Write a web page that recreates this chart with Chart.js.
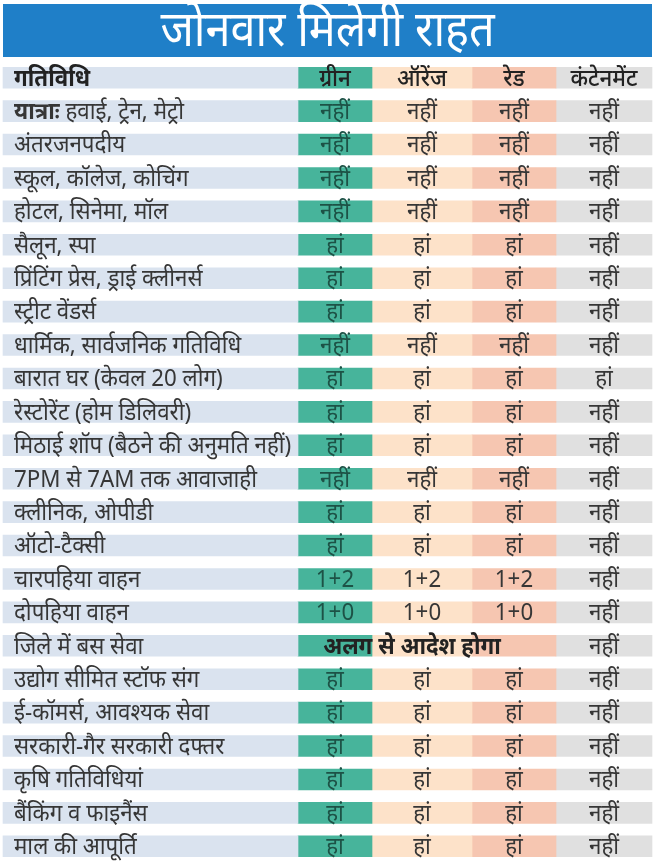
<!DOCTYPE html>
<html lang="hi">
<head>
<meta charset="utf-8">
<title>जोनवार मिलेगी राहत</title>
<script src="https://cdn.jsdelivr.net/npm/chart.js@4.4.1/dist/chart.umd.min.js"></script>
<style>
  html, body { margin: 0; padding: 0; background: #fff; }
</style>
</head>
<body>
<canvas id="zones" width="655" height="863"></canvas>
<script>
const title = 'जोनवार मिलेगी राहत'
const headerLabel = 'गतिविधि'
const zones = ['ग्रीन', 'ऑरेंज', 'रेड', 'कंटेनमेंट']

const activities = [
  'यात्राः हवाई, ट्रेन, मेट्रो',
  'अंतरजनपदीय',
  'स्कूल, कॉलेज, कोचिंग',
  'होटल, सिनेमा, मॉल',
  'सैलून, स्पा',
  'प्रिंटिंग प्रेस, ड्राई क्लीनर्स',
  'स्ट्रीट वेंडर्स',
  'धार्मिक, सार्वजनिक गतिविधि',
  'बारात घर (केवल 20 लोग)',
  'रेस्टोरेंट (होम डिलिवरी)',
  'मिठाई शॉप (बैठने की अनुमति नहीं)',
  '7PM से 7AM तक आवाजाही',
  'क्लीनिक, ओपीडी',
  'ऑटो-टैक्सी',
  'चारपहिया वाहन',
  'दोपहिया वाहन',
  'जिले में बस सेवा',
  'उद्योग सीमित स्टॉफ संग',
  'ई-कॉमर्स, आवश्यक सेवा',
  'सरकारी-गैर सरकारी दफ्तर',
  'कृषि गतिविधियां',
  'बैंकिंग व फाइनैंस',
  'माल की आपूर्ति'
]

const green = ['नहीं', 'नहीं', 'नहीं', 'नहीं', 'हां', 'हां', 'हां', 'नहीं', 'हां', 'हां', 'हां', 'नहीं',
  'हां', 'हां', '1+2', '1+0', null, 'हां', 'हां', 'हां', 'हां', 'हां', 'हां']
const orange = ['नहीं', 'नहीं', 'नहीं', 'नहीं', 'हां', 'हां', 'हां', 'नहीं', 'हां', 'हां', 'हां', 'नहीं',
  'हां', 'हां', '1+2', '1+0', null, 'हां', 'हां', 'हां', 'हां', 'हां', 'हां']
const red = ['नहीं', 'नहीं', 'नहीं', 'नहीं', 'हां', 'हां', 'हां', 'नहीं', 'हां', 'हां', 'हां', 'नहीं',
  'हां', 'हां', '1+2', '1+0', null, 'हां', 'हां', 'हां', 'हां', 'हां', 'हां']
const containment = ['नहीं', 'नहीं', 'नहीं', 'नहीं', 'नहीं', 'नहीं', 'नहीं', 'नहीं', 'हां', 'नहीं', 'नहीं', 'नहीं',
  'नहीं', 'नहीं', 'नहीं', 'नहीं', 'नहीं', 'नहीं', 'नहीं', 'नहीं', 'नहीं', 'नहीं', 'नहीं']

// row where green..red share one note
const busRow = 'जिले में बस सेवा'
const busNote = 'अलग से आदेश होगा'

// layout: column edges in px, and colours
const columnEdges = [3, 298, 372, 472, 556, 652]
const fills = ['#dae3ef', '#47b49b', '#fde2c9', '#f6c6b1', '#e0e0e0']
const inks = ['#363636', '#1d5246', '#363636', '#363636', '#363636']
const FONT = '"Noto Sans", "Lato", sans-serif'
const SIZE = 24
const SQUEEZE = 0.93

const rows = [headerLabel, ...activities]
const columns = [
  [headerLabel, ...activities],
  [zones[0], ...green],
  [zones[1], ...orange],
  [zones[2], ...red],
  [zones[3], ...containment]
]

function squeezedText(ctx, text, x, y, align, squeeze) {
  ctx.save()
  ctx.translate(x, y)
  ctx.scale(squeeze, 1)
  ctx.textAlign = align
  ctx.fillText(text, 0, 0)
  ctx.restore()
}

const titleBand = {
  id: 'titleBand',
  beforeDraw(chart) {
    const ctx = chart.ctx
    ctx.save()
    ctx.fillStyle = '#1f7fc8'
    ctx.fillRect(3, 4, 649, 53)
    ctx.fillStyle = '#ffffff'
    ctx.font = '50px ' + FONT
    ctx.textBaseline = 'middle'
    squeezedText(ctx, title, chart.width / 2, 32, 'center', 0.9)
    ctx.restore()
  }
}

const cellText = {
  id: 'cellText',
  afterDatasetsDraw(chart) {
    const ctx = chart.ctx
    ctx.save()
    ctx.textBaseline = 'middle'
    chart.data.datasets.forEach((ds, di) => {
      const meta = chart.getDatasetMeta(di)
      meta.data.forEach((bar, ri) => {
        const text = ds.texts[ri]
        if (!text) return
        const { x, base, y } = bar.getProps(['x', 'base', 'y'], true)
        const header = ri === 0
        const ty = y + 1
        ctx.fillStyle = header ? '#222222' : inks[di]
        if (di === 0) {
          const cut = text.indexOf('ः ')
          if (header || cut > 0) {
            const bold = header ? text : text.slice(0, cut + 1)
            ctx.font = 'bold ' + SIZE + 'px ' + FONT
            squeezedText(ctx, bold, base + 11, ty, 'left', SQUEEZE)
            if (!header) {
              const w = ctx.measureText(bold).width * SQUEEZE
              ctx.font = SIZE + 'px ' + FONT
              squeezedText(ctx, text.slice(cut + 1), base + 11 + w, ty, 'left', SQUEEZE)
            }
          } else {
            ctx.font = SIZE + 'px ' + FONT
            squeezedText(ctx, text, base + 11, ty, 'left', SQUEEZE)
          }
        } else {
          ctx.font = (header ? '500 ' : '') + SIZE + 'px ' + FONT
          squeezedText(ctx, text, (x + base) / 2, ty, 'center', SQUEEZE)
        }
      })
    })
    // merged note across green, orange and red
    const ri = rows.indexOf(busRow)
    const g = chart.getDatasetMeta(1).data[ri].getProps(['base', 'y'], true)
    const r = chart.getDatasetMeta(3).data[ri].getProps(['x'], true)
    ctx.fillStyle = '#222222'
    ctx.font = 'bold ' + SIZE + 'px ' + FONT
    squeezedText(ctx, busNote, (g.base + r.x) / 2 - 15, g.y + 1, 'center', SQUEEZE)
    ctx.restore()
  }
}

new Chart(document.getElementById('zones'), {
  type: 'bar',
  data: {
    labels: rows,
    datasets: columns.map((texts, i) => ({
      label: i === 0 ? headerLabel : zones[i - 1],
      texts: texts,
      data: rows.map(() => [columnEdges[i], columnEdges[i + 1]]),
      backgroundColor: fills[i],
      borderWidth: 0,
      barThickness: 21
    }))
  },
  options: {
    indexAxis: 'y',
    responsive: false,
    animation: false,
    layout: { padding: { top: 61, left: 0, right: 0, bottom: 0 } },
    datasets: { bar: { grouped: false } },
    scales: {
      x: { type: 'linear', min: 0, max: 655, display: false },
      y: { display: false, offset: true }
    },
    plugins: {
      legend: { display: false },
      tooltip: { enabled: false },
      title: { display: false }
    }
  },
  plugins: [titleBand, cellText]
})
</script>
</body>
</html>
